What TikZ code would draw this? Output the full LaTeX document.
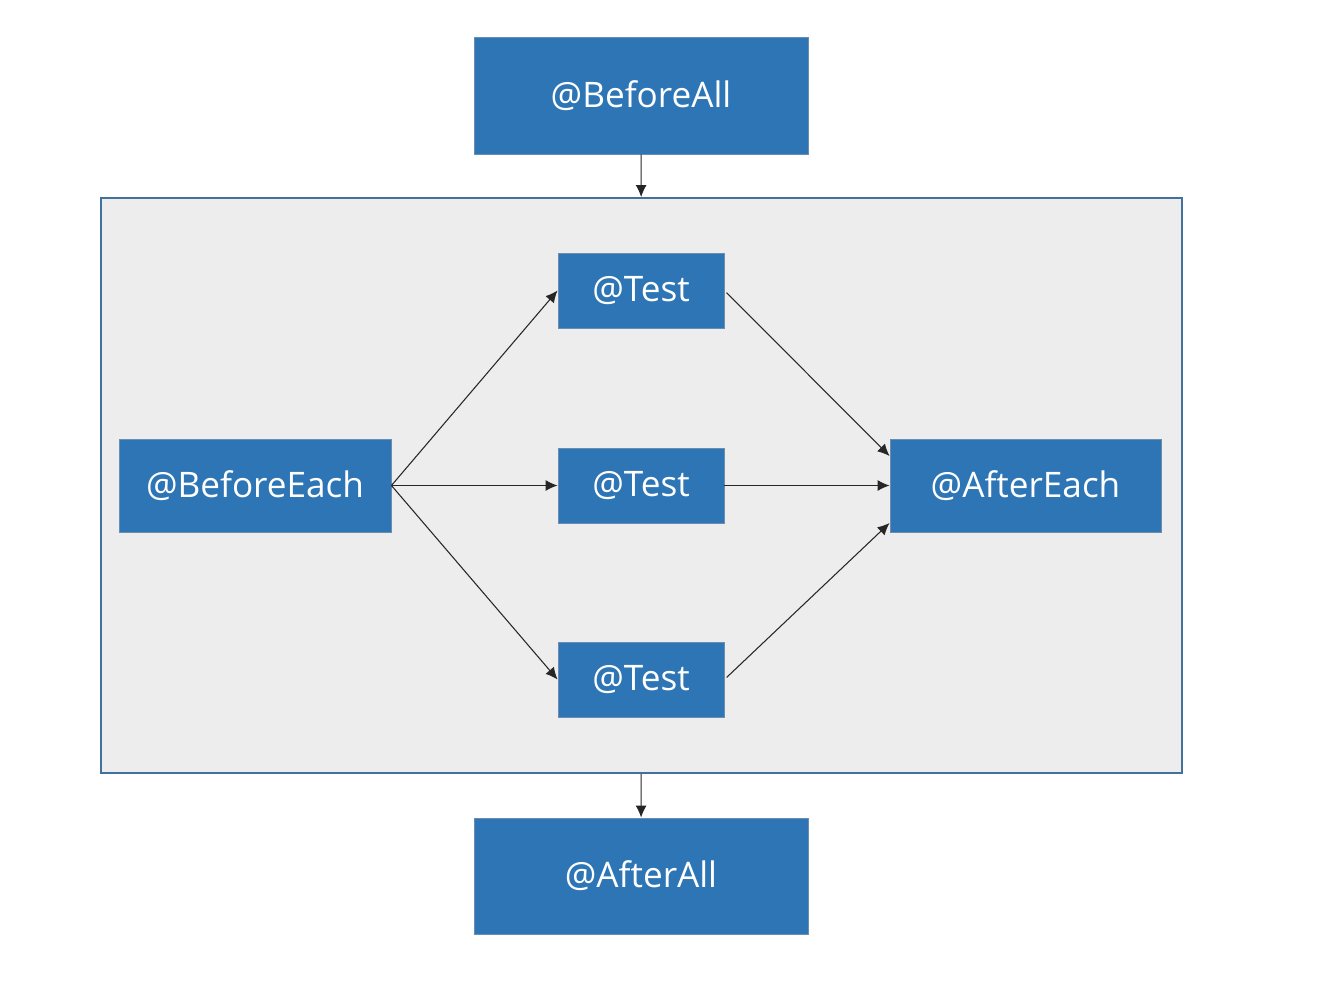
\documentclass[tikz,border=0pt]{standalone}
\usepackage{fontspec}
\setmainfont{Open Sans}
\usetikzlibrary{arrows.meta,calc}
\definecolor{boxblue}{HTML}{2E75B6}
\definecolor{boxline}{HTML}{6A8DB0}
\definecolor{framegray}{HTML}{EDEDED}
\definecolor{frameline}{HTML}{41719C}

\begin{document}
\begin{tikzpicture}[
    block/.style={rectangle, fill=boxblue, draw=boxline, line width=0.5pt,
        text=white, font=\fontsize{20}{24}\selectfont, inner sep=0pt},
    flow/.style={-{Latex[length=0.24cm,width=0.22cm]}, line width=0.6pt, draw=black!85}
]
\useasboundingbox (0,0) rectangle (26.34,-19.68);
% outer frame for the per-test cycle
\node[rectangle, fill=framegray, draw=frameline, line width=1.1pt,
      minimum width=21.62cm, minimum height=11.5cm] (frame) at (12.83,-9.71) {};
\node[block, minimum width=6.68cm, minimum height=2.34cm] (beforeAll) at (12.82,-1.91) {@BeforeAll};
\node[block, minimum width=6.68cm, minimum height=2.32cm] (afterAll) at (12.82,-17.52) {@AfterAll};
\node[block, minimum width=5.44cm, minimum height=1.86cm] (beforeEach) at (5.10,-9.71) {@BeforeEach};
\node[block, minimum width=5.42cm, minimum height=1.86cm] (afterEach) at (20.51,-9.71) {@AfterEach};
\foreach \i/\y in {1/-5.81,2/-9.71,3/-13.59}
    \node[block, minimum width=3.32cm, minimum height=1.5cm] (test\i) at (12.82,\y) {@Test};
\draw[flow] (beforeAll) -- (frame);
\draw[flow] (frame) -- (afterAll);
\foreach \i in {1,2,3}
    \draw[flow] (beforeEach.east) -- (test\i.west);
\draw[flow, shorten <=0.06cm] (test1.east) -- ($(afterEach.west)+(0,0.59)$);
\draw[flow] (test2.east) -- (afterEach.west);
\draw[flow, shorten <=0.06cm] (test3.east) -- ($(afterEach.west)+(0,-0.75)$);
\end{tikzpicture}
\end{document}
